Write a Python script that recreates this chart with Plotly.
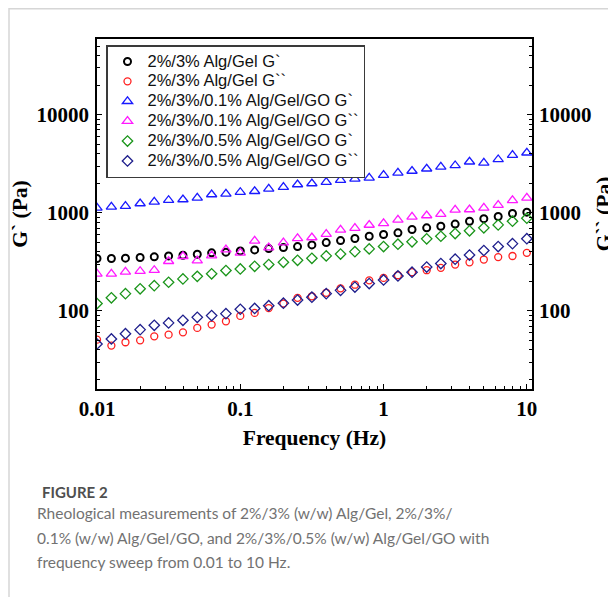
import plotly.graph_objects as go

# ---------------- data ----------------
freq = [0.01, 0.0126, 0.0158, 0.0200, 0.0251, 0.0316, 0.0398, 0.0501, 0.0631, 0.0794,
        0.1, 0.126, 0.158, 0.200, 0.251, 0.316, 0.398, 0.501, 0.631, 0.794,
        1.0, 1.26, 1.58, 2.00, 2.51, 3.16, 3.98, 5.01, 6.31, 7.94, 10.0]

alggel_g1 = [342, 342, 345, 350, 356, 364, 369, 378, 391, 397, 409, 419, 432, 442, 453, 471,
             497, 521, 547, 577, 601, 625, 676, 703, 730, 768, 821, 872, 917, 985, 1015]
alggel_g2 = [50.9, 44.3, 47.9, 50.1, 55.1, 57.3, 60.5, 67.1, 72.5, 78.4, 89, 95.5, 107, 119, 136, 141,
             153, 170, 185, 205, 217, 231, 248, 260, 275, 297, 313, 334, 354, 363, 391]
go01_g1 = [1125, 1151, 1169, 1245, 1295, 1345, 1367, 1422, 1538, 1563, 1622, 1660, 1757, 1825, 1944, 1990,
           2060, 2153, 2223, 2275, 2420, 2559, 2670, 2814, 2947, 3040, 3315, 3236, 3500, 3874, 4094]
go01_g2 = [239, 239, 250, 254, 260, 321, 361, 326, 367, 422, 391, 517, 442, 497, 550, 560,
           606, 670, 698, 751, 781, 848, 910, 939, 970, 1070, 1081, 1125, 1200, 1340, 1422]
go05_g1 = [119, 136, 150, 168, 181, 196, 212, 225, 239, 258, 268, 285, 297, 313, 328, 344,
           364, 380, 402, 429, 453, 479, 507, 543, 577, 615, 656, 703, 753, 821, 882]
go05_g2 = [46, 51.8, 58.6, 64.4, 71.3, 75.5, 80.2, 86.0, 89.6, 93.8, 104, 106, 113, 120, 129, 138,
           150, 162, 175, 190, 207, 227, 248, 280, 304, 337, 371, 413, 453, 485, 545]

names = ["2%/3% Alg/Gel G`", "2%/3% Alg/Gel G``",
         "2%/3%/0.1% Alg/Gel/GO G`", "2%/3%/0.1% Alg/Gel/GO G``",
         "2%/3%/0.5% Alg/Gel/GO G`", "2%/3%/0.5% Alg/Gel/GO G``"]
series = [alggel_g1, alggel_g2, go01_g1, go01_g2, go05_g1, go05_g2]
symbols = ["circle-open", "circle-open", "triangle-up-open", "triangle-up-open",
           "diamond-open", "diamond-open"]
colors = ["#000000", "#ff2020", "#1a1aff", "#ff1aff", "#1a951a", "#1e1e8c"]
sizes = [7, 7, 9, 9, 8, 8]
widths = [2.0, 1.3, 1.3, 1.3, 1.3, 1.3]
yaxes = ["y", "y2", "y", "y2", "y", "y2"]

caption_title = "FIGURE 2"
caption_lines = ["Rheological measurements of 2%/3% (w/w) Alg/Gel, 2%/3%/",
                 "0.1% (w/w) Alg/Gel/GO, and 2%/3%/0.5% (w/w) Alg/Gel/GO with",
                 "frequency sweep from 0.01 to 10 Hz."]

# ---------------- layout geometry ----------------
OFF = 8                      # page body margin of the html page
W, H = 616, 597
ML, MT = 97 - OFF, 39 - OFF
PW, PH = 435, 350
MR, MB = W - ML - PW, H - MT - PH


def px2x(px):
    return (px - OFF - ML) / PW


def px2y(py):
    return (H - MB - (py - OFF)) / PH


fig = go.Figure()
for nm, ys, sym, col, sz, lw, ya in zip(names, series, symbols, colors, sizes, widths, yaxes):
    fig.add_trace(go.Scatter(
        x=freq, y=ys, mode="markers", yaxis=ya,
        name='<span style="font-size:16.5px">' + nm + '</span>',
        marker=dict(symbol=sym, size=sz, color=col, line=dict(width=lw, color=col)),
    ))

serif_tick = dict(family="Liberation Serif", size=21, color="#000000", weight="bold")
serif_title = dict(family="Liberation Serif", size=21.5, color="#000000", weight="bold")
yrange = [1.204, 4.772]
minor_ticks = dict(dtick="D1", ticks="inside", ticklen=3, tickwidth=1, tickcolor="#000000", showgrid=False)

fig.update_layout(
    width=W, height=H,
    margin=dict(l=ML, r=MR, t=MT, b=MB, autoexpand=False),
    paper_bgcolor="white", plot_bgcolor="white",
    showlegend=True,
    legend=dict(
        x=px2x(106), y=px2y(45), xanchor="left", yanchor="top",
        bgcolor="white", bordercolor="#3a3a3a", borderwidth=1.5,
        font=dict(family="Liberation Sans", size=13, color="#111111"),
        tracegroupgap=0, itemsizing="trace",
    ),
    xaxis=dict(
        type="log", range=[-2, 1.036], dtick=1, exponentformat="none",
        showline=True, linecolor="#000000", linewidth=1.5, mirror=True,
        ticks="inside", ticklen=5, tickwidth=1.3, tickcolor="#000000",
        minor=minor_ticks,
        showgrid=False, zeroline=False,
        tickfont=serif_tick, ticklabelstandoff=0,
        title=dict(text="Frequency (Hz)", font=serif_title, standoff=10),
    ),
    yaxis=dict(
        type="log", range=yrange, dtick=1, tickformat="d",
        showline=True, linecolor="#000000", linewidth=1.5,
        ticks="inside", ticklen=5, tickwidth=1.3, tickcolor="#000000",
        minor=minor_ticks,
        showgrid=False, zeroline=False,
        tickfont=serif_tick, ticklabelstandoff=2,
        title=dict(text="G` (Pa)", font=serif_title, standoff=4),
    ),
    yaxis2=dict(
        type="log", range=yrange, dtick=1, tickformat="d",
        overlaying="y", side="right", anchor="x",
        showline=True, linecolor="#000000", linewidth=1.5,
        ticks="inside", ticklen=5, tickwidth=1.3, tickcolor="#000000",
        minor=minor_ticks,
        showgrid=False, zeroline=False,
        tickfont=serif_tick, ticklabelstandoff=1,
        title=dict(text="G`` (Pa)", font=serif_title, standoff=5),
    ),
)

# caption
fig.add_annotation(text=caption_title, x=px2x(40), y=px2y(492), xref="paper", yref="paper",
                   xanchor="left", yanchor="middle", showarrow=False,
                   font=dict(family="Lato", size=15, color="#4f4f4f", weight="bold"))
for line, cy in zip(caption_lines, [513, 537.5, 562]):
    fig.add_annotation(text=line, x=px2x(35), y=px2y(cy), xref="paper", yref="paper",
                       xanchor="left", yanchor="middle", showarrow=False,
                       font=dict(family="Lato", size=15.5, color="#727272"))

# page frame lines
fig.add_shape(type="line", xref="paper", yref="paper", x0=px2x(9), x1=px2x(9),
              y0=px2y(OFF), y1=px2y(H + OFF), line=dict(color="#d6d6d6", width=1.5))
fig.add_shape(type="line", xref="paper", yref="paper", x0=px2x(9), x1=px2x(W + OFF),
              y0=px2y(OFF + 0.8), y1=px2y(OFF + 0.8), line=dict(color="#d6d6d6", width=1.5))

fig.write_html("out.html")
